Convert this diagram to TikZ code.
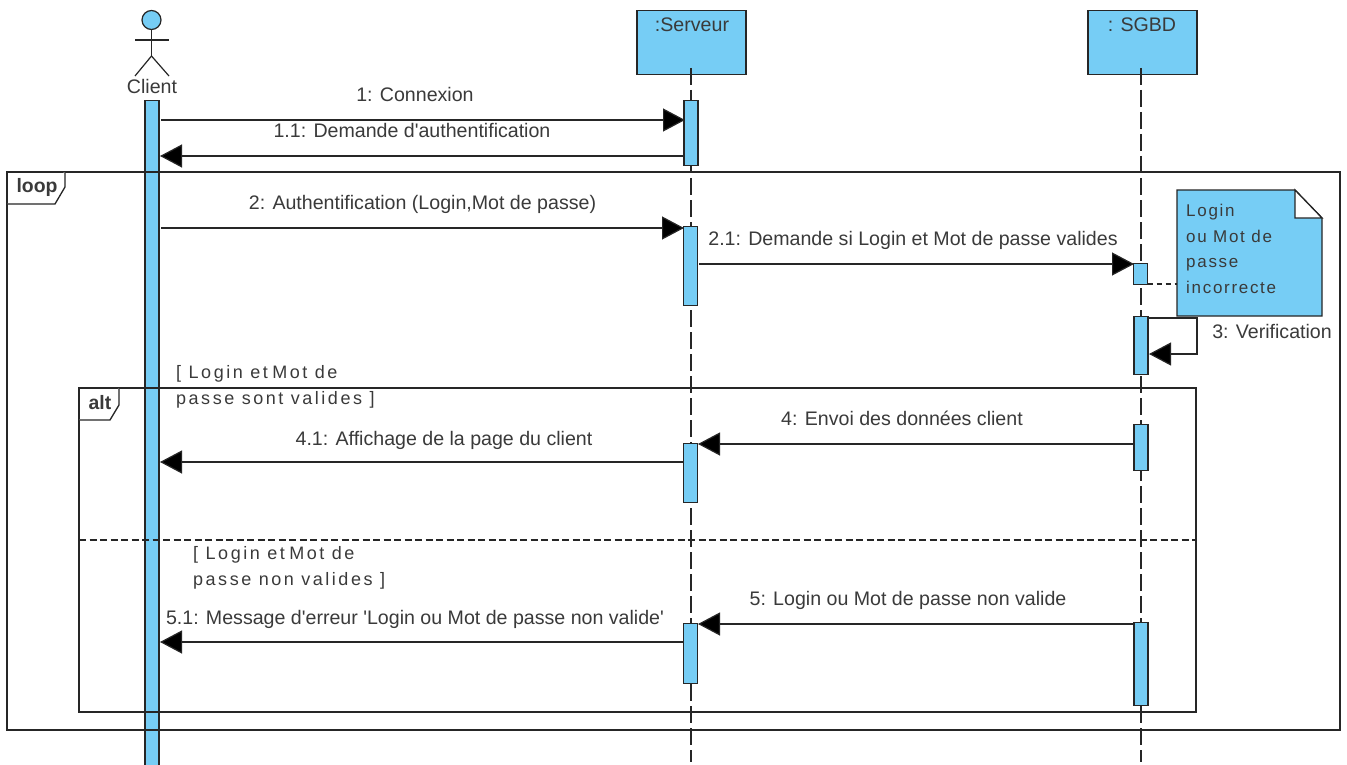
\documentclass[tikz,border=0pt]{standalone}
\usepackage{fontspec}
\setmainfont{Liberation Sans}
\newfontfamily\lblfont{Liberation Sans}
\newfontfamily\spacedfont[LetterSpace=14]{Liberation Sans}
\newfontfamily\notefont[LetterSpace=10]{Liberation Sans}
\usetikzlibrary{arrows.meta}
\definecolor{umlblue}{HTML}{76CDF5}
\definecolor{umlline}{HTML}{262626}
\definecolor{umltext}{HTML}{3A3A3A}
\tikzset{
  lbl/.style={font=\lblfont\fontsize{19.6}{22}\selectfont,text=umltext,inner sep=0pt},
  guard/.style={font=\spacedfont\fontsize{18}{26}\selectfont,text=umltext,inner sep=0pt,align=left,anchor=north west},
  act/.style={draw=umlline,fill=umlblue,line width=1.3pt,minimum width=14pt,inner sep=0pt,anchor=north},
  obj/.style={draw=umlline,fill=umlblue,line width=1.3pt,minimum width=109pt,minimum height=64pt,inner sep=0pt,anchor=north},
  life/.style={draw=umlline,line width=1.3pt,dash pattern=on 17pt off 5pt},
  msg/.style={draw=umlline,line width=1.2pt,-{Triangle[length=22pt,width=23pt,fill=black]}},
  frameline/.style={draw=umlline,line width=1.3pt},
  tabtxt/.style={font=\bfseries\fontsize{19.4}{22}\selectfont,text=umltext,inner sep=0pt},
  actorline/.style={draw=umlline,line width=1.2pt},
}
\begin{document}
\begin{tikzpicture}[x=1pt,y=-1pt]
\useasboundingbox (0,0) rectangle (1347,765);
\fill[white] (0,0) rectangle (1347,765);

% lifelines
\coordinate (serverEnd) at (691,762);
\coordinate (sgbdEnd) at (1141,762);
\node[obj] (server) at (691.5,10) {};
\node[obj] (sgbd) at (1142.5,10) {};
\draw[life] (691,68) -- (serverEnd);
\draw[life] (1141,68) -- (sgbdEnd);
\node[lbl] (serverLbl) at (692,25) {:Serveur};
\node[lbl] (sgbdLbl) at (1142,25) {: SGBD};

% actor
\node[circle,draw=umlline,fill=umlblue,line width=1.2pt,minimum size=19pt,inner sep=0pt] (head) at (151.5,20) {};
\coordinate (hip) at (151.5,56);
\coordinate (armL) at (135,40);
\coordinate (armR) at (169,40);
\coordinate (legL) at (135,76);
\coordinate (legR) at (169,76);
\draw[actorline] (head.south) -- (hip);
\draw[actorline] (armL) -- (armR);
\draw[actorline] (legL) -- (hip) -- (legR);
\node[lbl] (client) at (152,86) {Client};

% client activation (runs off the page)
\node[act,minimum height=670pt] (a0) at (152,100) {};

% frames
\coordinate (loopTL) at (7,172);
\coordinate (loopBR) at (1340,730);
\draw[frameline] (loopTL) rectangle (loopBR);
\draw[frameline,fill=white] (7,204) -- (55,204) -- (65,187) -- (65,172);
\node[tabtxt] (loopTab) at (37,187) {loop};
\coordinate (altTL) at (79,388);
\coordinate (altBR) at (1196,712);
\draw[frameline] (altTL) rectangle (altBR);
\draw[frameline,fill=white] (79,420) -- (110,420) -- (119,405) -- (119,388);
\node[tabtxt] (altTab) at (100,403) {alt};
\coordinate (divL) at (79,540);
\coordinate (divR) at (1196,540);
\draw[frameline,dash pattern=on 7pt off 3.5pt] (divL) -- (divR);

% activations
\node[act,minimum height=65pt] (s1) at (691,100) {};
\node[act,minimum height=79pt] (s2) at (690.5,226) {};
\node[act,minimum height=21pt] (d2) at (1140.5,263) {};
\node[act,minimum height=58pt] (d3) at (1141,316) {};
\node[act,minimum height=46pt] (d4) at (1141,424) {};
\node[act,minimum height=59pt] (s4) at (690.5,443) {};
\node[act,minimum height=83pt] (d5) at (1141,622) {};
\node[act,minimum height=60pt] (s5) at (690.5,623) {};

% note
\draw[draw=umlline,fill=umlblue,line width=1.3pt] (1177,190) -- (1295,190) -- (1322,218) -- (1322,316) -- (1177,316) -- cycle;
\draw[draw=umlline,fill=white,line width=1.3pt] (1295,190) -- (1322,218) -- (1295,218) -- cycle;
\node[guard,font=\notefont\fontsize{17}{25.5}\selectfont] (note) at (1186,204) {Login\\ou Mot de\\passe\\incorrecte};
\coordinate (noteW) at (1177,284);
\coordinate (d2c) at (1147.5,284);
\draw[draw=umlline,line width=1.2pt,dash pattern=on 5pt off 4pt] (d2c) -- (noteW);

% messages
\coordinate (m1s) at (161,120);   \coordinate (m1e) at (685,120);
\coordinate (m11s) at (684,156);  \coordinate (m11e) at (160,156);
\coordinate (m2s) at (161,228);   \coordinate (m2e) at (684,228);
\coordinate (m21s) at (699,264);  \coordinate (m21e) at (1134,264);
\coordinate (m3a) at (1148,318);  \coordinate (m3b) at (1197,318);
\coordinate (m3c) at (1197,354);  \coordinate (m3d) at (1149,354);
\coordinate (m4s) at (1134,444);  \coordinate (m4e) at (698,444);
\coordinate (m41s) at (684,462);  \coordinate (m41e) at (160,462);
\coordinate (m5s) at (1134,624);  \coordinate (m5e) at (698,624);
\coordinate (m51s) at (684,642);  \coordinate (m51e) at (160,642);
\draw[msg] (m1s) -- (m1e);
\draw[msg] (m11s) -- (m11e);
\draw[msg] (m2s) -- (m2e);
\draw[msg] (m21s) -- (m21e);
\draw[msg] (m3a) -- (m3b) -- (m3c) -- (m3d);
\draw[msg] (m4s) -- (m4e);
\draw[msg] (m41s) -- (m41e);
\draw[msg] (m5s) -- (m5e);
\draw[msg] (m51s) -- (m51e);

% labels
\node[lbl] (l1) at (415,94.5) {1: Connexion};
\node[lbl] (l11) at (412,130.5) {1.1: Demande d'authentification};
\node[lbl] (l2) at (422.5,204) {2: Authentification (Login,Mot de passe)};
\node[lbl] (l21) at (913,240) {2.1: Demande si Login et Mot de passe valides};
\node[lbl] (l3) at (1272,331) {3: Verification};
\node[lbl] (l4) at (902,418.5) {4: Envoi des données client};
\node[lbl] (l41) at (444,440) {4.1: Affichage de la page du client};
\node[lbl] (l5) at (908,600) {5: Login ou Mot de passe non valide};
\node[lbl] (l51) at (415,619) {5.1: Message d'erreur 'Login ou Mot de passe non valide'};
\node[guard] (g1) at (176,365) {[ Login et\hspace{-3pt} Mot de\\passe sont valides ]};
\node[guard] (g2) at (193,546) {[ Login et\hspace{-3pt} Mot de\\passe non valides ]};
\end{tikzpicture}
\end{document}
